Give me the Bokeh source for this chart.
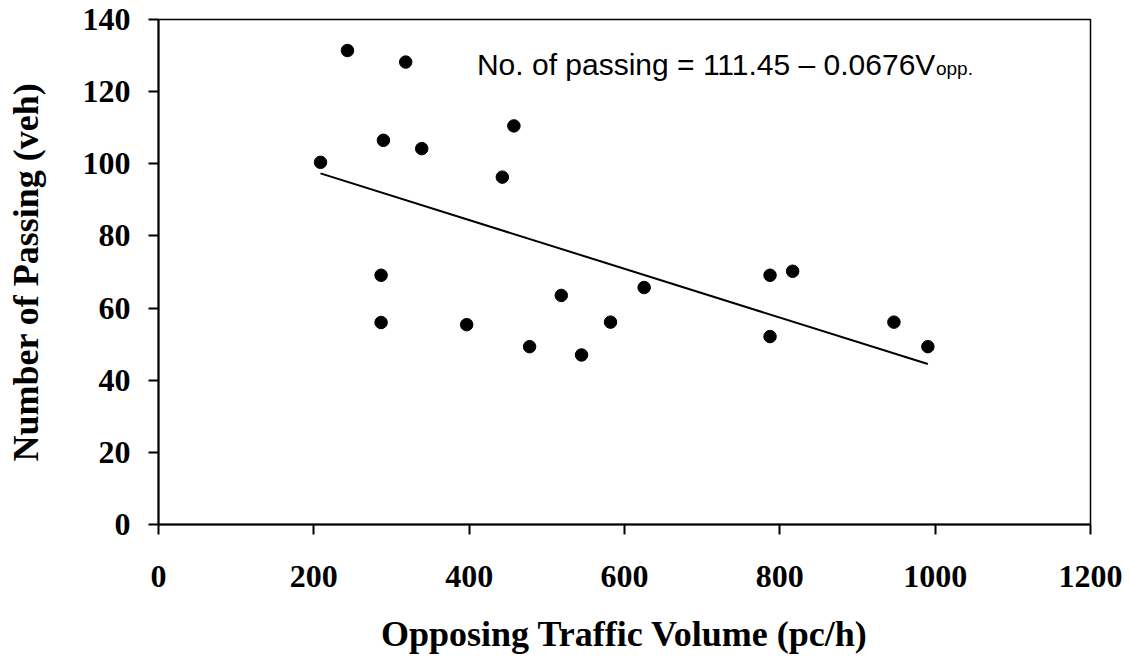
from bokeh.plotting import figure
from bokeh.models import Label, FixedTicker, Range1d, ColumnDataSource
from bokeh.embed import file_html
from bokeh.resources import INLINE

# ---- data ----
volume = [208.6, 243.3, 286.6, 286.6, 289.6, 318.3, 338.9, 396.8, 442.7, 457.6,
          477.8, 518.6, 544.7, 582.0, 625.3, 787.4, 787.4, 816.5, 946.9, 990.6]
passing = [100.4, 131.4, 69.1, 56.0, 106.5, 128.2, 104.2, 55.4, 96.3, 110.5,
           49.3, 63.5, 47.0, 56.1, 65.7, 69.1, 52.1, 70.2, 56.1, 49.3]

intercept = 111.45
slope = -0.0676

x_ticks = [0, 200, 400, 600, 800, 1000, 1200]
y_ticks = [0, 20, 40, 60, 80, 100, 120, 140]

eq_text = "No. of passing = 111.45 \u2013 0.0676V"
eq_sub = "opp."
eq_pos = (410, 127.4)

# ---- regression line from the equation ----
trend_x = [min(volume), max(volume)]
trend_y = [intercept + slope * v for v in trend_x]

serif = "Liberation Serif"
sans = "Liberation Sans"

p = figure(frame_width=932, frame_height=505,
           x_range=Range1d(x_ticks[0], x_ticks[-1]),
           y_range=Range1d(y_ticks[0], y_ticks[-1]),
           output_backend="svg", toolbar_location=None,
           min_border_left=158, min_border_right=32,
           min_border_top=19, min_border_bottom=125)

p.grid.visible = False
p.background_fill_color = "white"
p.border_fill_color = "white"
p.outline_line_color = "black"
p.outline_line_width = 1.5

p.xaxis.ticker = FixedTicker(ticks=x_ticks)
p.yaxis.ticker = FixedTicker(ticks=y_ticks)

for ax in (p.xaxis, p.yaxis):
    ax.axis_line_color = "black"
    ax.axis_line_width = 2
    ax.major_tick_line_color = "black"
    ax.major_tick_line_width = 2
    ax.major_tick_out = 10
    ax.major_tick_in = 0
    ax.minor_tick_line_color = None
    ax.major_label_text_font = serif
    ax.major_label_text_font_style = "bold"
    ax.major_label_text_font_size = "32px"
    ax.major_label_text_color = "black"
    ax.axis_label_text_font = serif
    ax.axis_label_text_font_style = "bold"
    ax.axis_label_text_color = "black"

p.xaxis.axis_label = "Opposing Traffic Volume (pc/h)"
p.yaxis.axis_label = "Number of Passing (veh)"
p.xaxis.axis_label_text_font_size = "36px"
p.yaxis.axis_label_text_font_size = "36px"
p.xaxis.major_label_standoff = 31
p.xaxis.axis_label_standoff = 24
p.yaxis.major_label_standoff = 18
p.yaxis.axis_label_standoff = 34

src = ColumnDataSource(dict(x=volume, y=passing))
p.scatter("x", "y", source=src, size=12.5, color="black")
p.line(trend_x, trend_y, line_color="black", line_width=2)

eq = Label(x=eq_pos[0], y=eq_pos[1], text=eq_text, text_font=sans,
           text_font_size="30px", text_color="black", text_baseline="alphabetic")
p.add_layout(eq)
sub = Label(x=eq_pos[0], y=eq_pos[1], x_offset=459, y_offset=-4, text=eq_sub,
            text_font=sans, text_font_size="19px", text_color="black",
            text_baseline="alphabetic")
p.add_layout(sub)

open("out.html", "w").write(file_html(p, INLINE))
